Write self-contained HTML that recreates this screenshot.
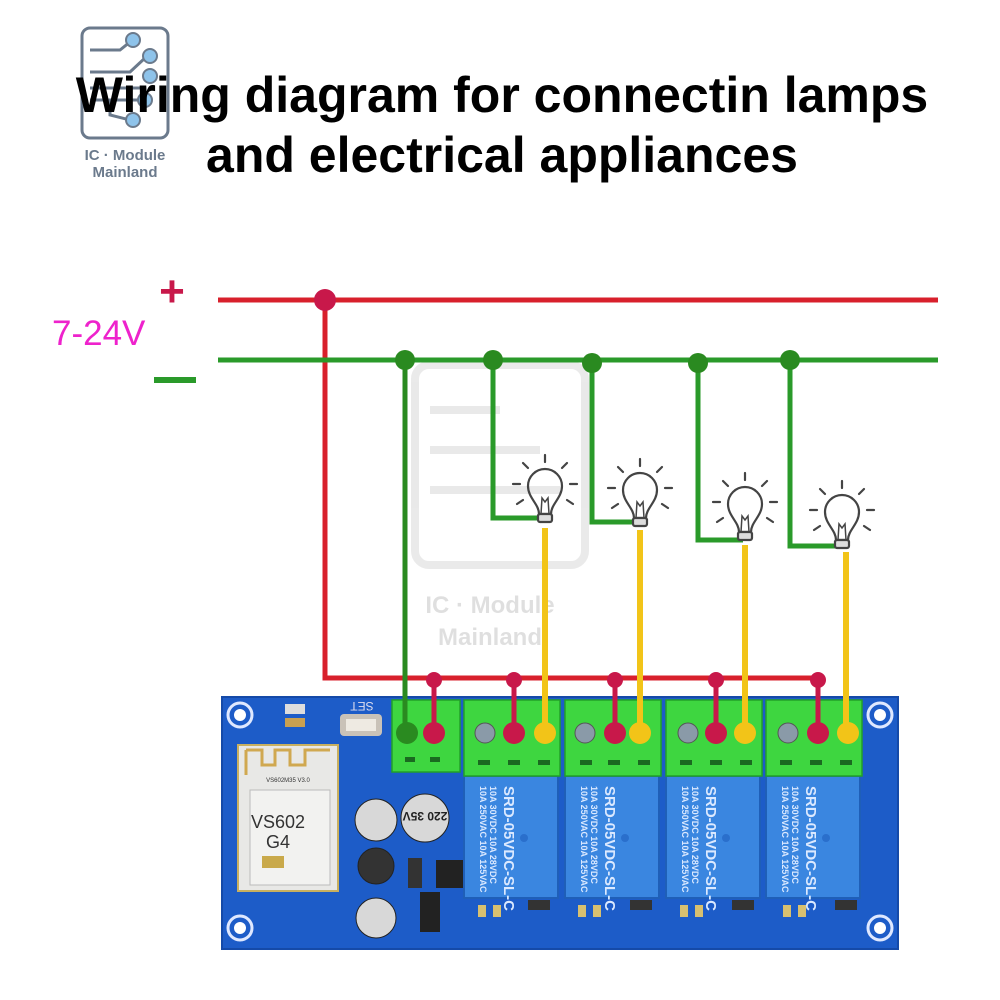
<!DOCTYPE html>
<html><head><meta charset="utf-8"><style>
html,body{margin:0;padding:0;background:#fff;}
svg{display:block}
</style></head><body>
<svg width="1000" height="1000" viewBox="0 0 1000 1000" xmlns="http://www.w3.org/2000/svg" font-family="Liberation Sans, sans-serif">
<defs>
<g id="bulb" fill="none" stroke="#444" stroke-width="2.2" stroke-linecap="round">
  <path d="M-6,22 C-6,12 -17,6 -17,-6 A17,17 0 1 1 17,-6 C17,6 6,12 6,22 Z"/>
  <path d="M-4,22 L-3,6 L0,10 L3,6 L4,22" stroke-width="1.5"/>
  <rect x="-7" y="22" width="14" height="8" rx="2" fill="#ddd"/>
  <line x1="0" y1="-30" x2="0" y2="-37"/>
  <line x1="-17" y1="-24" x2="-22" y2="-29"/>
  <line x1="17" y1="-24" x2="22" y2="-29"/>
  <line x1="-25" y1="-8" x2="-32" y2="-8"/>
  <line x1="25" y1="-8" x2="32" y2="-8"/>
  <line x1="-22" y1="8" x2="-28" y2="12"/>
  <line x1="22" y1="8" x2="28" y2="12"/>
</g>
<g id="relay">
  <rect x="0" y="0" width="94" height="122" fill="#3a86e0" stroke="#1f5fb8" stroke-width="2"/>
  <g transform="translate(14,10) rotate(90)" fill="#dbe9ff">
    <text x="0" y="-2" font-size="9" font-weight="bold">10A 250VAC  10A 125VAC</text>
    <text x="0" y="-12" font-size="9" font-weight="bold">10A  30VDC  10A  28VDC</text>
    <text x="0" y="-26" font-size="15" font-weight="bold">SRD-05VDC-SL-C</text>
  </g>
  <circle cx="60" cy="62" r="4" fill="#2a6fcc"/>
</g>
</defs>

<!-- logo -->
<g fill="none" stroke="#6b7a8c" stroke-width="3">
  <rect x="82" y="28" width="86" height="110" rx="8"/>
  <path d="M90,50 H120 L135,38" /><path d="M90,72 H130 L145,58"/>
  <path d="M90,88 H140"/><path d="M90,100 H140"/><path d="M110,100 V115 L130,120"/>
</g>
<g fill="#8ec3ea" stroke="#6b7a8c" stroke-width="2">
  <circle cx="133" cy="40" r="7"/><circle cx="150" cy="56" r="7"/><circle cx="150" cy="76" r="7"/>
  <circle cx="145" cy="100" r="7"/><circle cx="133" cy="120" r="7"/>
</g>
<text x="125" y="160" font-size="15" font-weight="bold" fill="#6b7a8c" text-anchor="middle">IC · Module</text>
<text x="125" y="177" font-size="15" font-weight="bold" fill="#6b7a8c" text-anchor="middle">Mainland</text>

<!-- title -->
<text x="502" y="112" font-size="50" font-weight="bold" text-anchor="middle" fill="#000">Wiring diagram for connectin lamps</text>
<text x="502" y="172" font-size="50" font-weight="bold" text-anchor="middle" fill="#000">and electrical appliances</text>

<!-- watermark -->
<g opacity="0.12" fill="none" stroke="#555" stroke-width="8">
  <rect x="415" y="365" width="170" height="200" rx="14"/>
  <path d="M430,410 H500"/><path d="M430,450 H540"/><path d="M430,490 H560"/>
</g>
<text x="490" y="613" font-size="24" font-weight="bold" fill="#000" opacity="0.12" text-anchor="middle">IC · Module</text>
<text x="490" y="645" font-size="24" font-weight="bold" fill="#000" opacity="0.12" text-anchor="middle">Mainland</text>

<!-- power labels -->
<text x="172" y="306" font-size="44" font-weight="bold" fill="#c8184a" text-anchor="middle">+</text>
<rect x="154" y="377" width="42" height="6" fill="#2a9a2a"/>
<text x="52" y="345" font-size="35" fill="#ee22cc">7-24V</text>

<!-- board -->
<rect x="222" y="697" width="676" height="252" fill="#1d5cc8" rx="3"/>
<rect x="222" y="697" width="676" height="252" fill="none" stroke="#154aa8" stroke-width="2"/>
<g fill="none" stroke="#dfe8ff" stroke-width="3">
  <circle cx="240" cy="715" r="12"/><circle cx="240" cy="928" r="12"/>
  <circle cx="880" cy="715" r="12"/><circle cx="880" cy="928" r="12"/>
</g>
<g fill="#fff"><circle cx="240" cy="715" r="6"/><circle cx="240" cy="928" r="6"/><circle cx="880" cy="715" r="6"/><circle cx="880" cy="928" r="6"/></g>
<!-- wifi module -->
<rect x="238" y="745" width="100" height="146" fill="#e8e8e6" stroke="#c8b060" stroke-width="2"/>
<path d="M246,750 V775 M246,750 H262 V765 H275 V750 H290 V765 H305 V750 H330" fill="none" stroke="#d0a850" stroke-width="3"/>
<rect x="250" y="790" width="80" height="95" fill="#f2f2f0" stroke="#bbb"/>
<text x="278" y="828" font-size="18" text-anchor="middle" fill="#333">VS602</text>
<text x="278" y="848" font-size="18" text-anchor="middle" fill="#333">G4</text>
<text x="288" y="782" font-size="6" text-anchor="middle" fill="#333">VS602M35 V3.0</text>
<rect x="262" y="856" width="22" height="12" fill="#c9a94a"/>
<!-- SET button -->
<rect x="340" y="714" width="42" height="22" rx="4" fill="#c9c2b8"/>
<rect x="346" y="719" width="30" height="12" fill="#eeeae2"/>
<text x="362" y="710" font-size="12" fill="#dde" text-anchor="middle" transform="rotate(180 362 706)">SET</text>
<rect x="285" y="704" width="20" height="10" fill="#ddd"/><rect x="285" y="718" width="20" height="9" fill="#c9a050"/>
<!-- caps -->
<g stroke="#222" stroke-width="1">
<circle cx="376" cy="820" r="21" fill="#d8d8d8"/>
<circle cx="425" cy="818" r="24" fill="#d8d8d8"/>
<circle cx="376" cy="918" r="20" fill="#d8d8d8"/>
<circle cx="376" cy="866" r="18" fill="#333"/>
</g>
<text x="425" y="820" font-size="12" font-weight="bold" text-anchor="middle" fill="#222" transform="rotate(180 425 816)">220 35V</text>
<rect x="436" y="860" width="28" height="28" fill="#222"/>
<rect x="408" y="858" width="14" height="30" fill="#333"/>
<rect x="420" y="892" width="20" height="40" fill="#222"/>
<rect x="468" y="760" width="20" height="12" fill="#222"/>
<!-- small components -->
<g fill="#d8c070">
<rect x="478" y="905" width="8" height="12"/><rect x="493" y="905" width="8" height="12"/>
<rect x="578" y="905" width="8" height="12"/><rect x="593" y="905" width="8" height="12"/>
<rect x="680" y="905" width="8" height="12"/><rect x="695" y="905" width="8" height="12"/>
<rect x="783" y="905" width="8" height="12"/><rect x="798" y="905" width="8" height="12"/>
</g>
<g fill="#333"><rect x="528" y="900" width="22" height="10"/><rect x="630" y="900" width="22" height="10"/><rect x="732" y="900" width="22" height="10"/><rect x="835" y="900" width="22" height="10"/></g>

<!-- relays -->
<use href="#relay" x="464" y="776"/>
<use href="#relay" x="565" y="776"/>
<use href="#relay" x="666" y="776"/>
<use href="#relay" x="766" y="776"/>

<!-- terminal blocks -->
<g fill="#3ed640" stroke="#22a028" stroke-width="1.5">
  <rect x="392" y="700" width="68" height="72"/>
  <rect x="464" y="700" width="96" height="76"/>
  <rect x="565" y="700" width="96" height="76"/>
  <rect x="666" y="700" width="96" height="76"/>
  <rect x="766" y="700" width="96" height="76"/>
</g>
<g fill="#1a6a20">
  <rect x="405" y="757" width="10" height="5"/><rect x="430" y="757" width="10" height="5"/>
  <rect x="478" y="760" width="12" height="5"/><rect x="508" y="760" width="12" height="5"/><rect x="538" y="760" width="12" height="5"/>
  <rect x="580" y="760" width="12" height="5"/><rect x="608" y="760" width="12" height="5"/><rect x="638" y="760" width="12" height="5"/>
  <rect x="680" y="760" width="12" height="5"/><rect x="710" y="760" width="12" height="5"/><rect x="740" y="760" width="12" height="5"/>
  <rect x="780" y="760" width="12" height="5"/><rect x="810" y="760" width="12" height="5"/><rect x="840" y="760" width="12" height="5"/>
</g>
<g fill="#8a9aa8" stroke="#555"><circle cx="485" cy="733" r="10"/><circle cx="585" cy="733" r="10"/><circle cx="688" cy="733" r="10"/><circle cx="788" cy="733" r="10"/></g>

<!-- wires -->
<g fill="none" stroke-width="5">
  <path d="M218,300 H938" stroke="#d8202c"/>
  <path d="M325,300 V678 H820" stroke="#d8202c"/>
  <path d="M434,680 V733 M514,680 V733 M615,680 V733 M716,680 V733 M818,680 V733" stroke="#c8184a"/>
  <path d="M218,360 H938" stroke="#2a9a2a"/>
  <path d="M405,360 V733" stroke="#2a8a20"/>
  <path d="M493,360 V518 H543" stroke="#2a9a2a"/>
  <path d="M592,360 V522 H638" stroke="#2a9a2a"/>
  <path d="M698,360 V540 H743" stroke="#2a9a2a"/>
  <path d="M790,360 V546 H842" stroke="#2a9a2a"/>
  <path d="M545,528 V733 M640,530 V733 M745,545 V733 M846,552 V733" stroke="#f2c418" stroke-width="6"/>
</g>
<use href="#bulb" x="545" y="492"/>
<use href="#bulb" x="640" y="496"/>
<use href="#bulb" x="745" y="510"/>
<use href="#bulb" x="842" y="518"/>

<!-- dots -->
<circle cx="325" cy="300" r="11" fill="#c8184a"/>
<g fill="#c8184a">
<circle cx="434" cy="680" r="8"/><circle cx="514" cy="680" r="8"/><circle cx="615" cy="680" r="8"/><circle cx="716" cy="680" r="8"/><circle cx="818" cy="680" r="8"/>
<circle cx="434" cy="733" r="11"/><circle cx="514" cy="733" r="11"/><circle cx="615" cy="733" r="11"/><circle cx="716" cy="733" r="11"/><circle cx="818" cy="733" r="11"/>
</g>
<g fill="#2a8a20">
<circle cx="405" cy="360" r="10"/><circle cx="493" cy="360" r="10"/><circle cx="592" cy="363" r="10"/><circle cx="698" cy="363" r="10"/><circle cx="790" cy="360" r="10"/>
<circle cx="407" cy="733" r="11"/>
</g>
<g fill="#f2c418"><circle cx="545" cy="733" r="11"/><circle cx="640" cy="733" r="11"/><circle cx="745" cy="733" r="11"/><circle cx="848" cy="733" r="11"/></g>
</svg>
</body></html>
